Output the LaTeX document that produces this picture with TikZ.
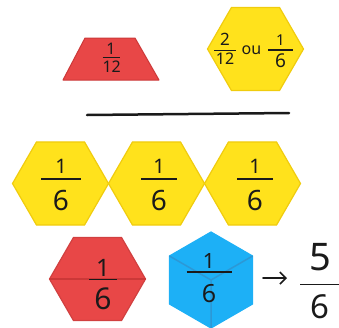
\documentclass[tikz,border=0pt]{standalone}
\usepackage{fontspec}
\setmainfont{Noto Sans}
\usetikzlibrary{shapes.geometric,calc,arrows.meta}
\definecolor{hexyellow}{HTML}{FFE21C}
\definecolor{hexyellowd}{HTML}{F0CC0E}
\definecolor{hexred}{HTML}{E84747}
\definecolor{hexredd}{HTML}{CC3838}
\definecolor{hexblue}{HTML}{1DB0F6}
\definecolor{hexblued}{HTML}{2C98D6}
\definecolor{ink}{HTML}{1A1A1A}
\newcommand\fs[2]{{\fontsize{#1}{#1}\selectfont #2}}
\newcommand\fb[5]{\vbox{\offinterlineskip\hbox to #1{\hfil#4\hfil}\kern#2\hrule height 1.6pt\kern#3\hbox to #1{\hfil#5\hfil}}}
\tikzset{
  hexa/.style={regular polygon, regular polygon sides=6, minimum size=96pt, inner sep=0pt, outer sep=0pt, line width=1.2pt},
  yhex/.style={hexa, fill=hexyellow, draw=hexyellowd},
  txt/.style={inner sep=0pt, outer sep=0pt, text=ink},
}
\begin{document}
\begin{tikzpicture}[x=1pt,y=-1pt]
\useasboundingbox (0,0) rectangle (339,327);
% red trapezoid
\filldraw[fill=hexred, draw=hexredd, line width=1pt, line join=round]
  (85,38) -- (135,38) -- (159,80) -- (63,80) -- cycle;
\node[txt] (t12) at (111,58) {\fb{17pt}{2pt}{3pt}{\fs{16}{1}}{\fs{16}{12}}};
% top yellow hexagon
\node[yhex] (hx0) at (255.5,49) {};
\node[txt] (f212) at (225,49) {\fb{22pt}{4pt}{2pt}{\fs{17}{2}}{\fs{16}{12}}};
\node[txt] (ou) at (251.5,50) {\fs{16}{ou}};
\node[txt] (f16a) at (280.5,51) {\fb{25pt}{4pt}{3pt}{\fs{15}{1}}{\fs{19}{6}}};
% line
\coordinate (l1) at (87,115);
\coordinate (l2) at (289,113);
\draw[ink, line width=2.5pt, line cap=round] (l1) -- (l2);
% row of yellow hexagons
\node[yhex] (hx1) at (60.5,183.5) {};
\node[yhex] (hx2) at (156.5,183.5) {};
\node[yhex] (hx3) at (252.5,183.5) {};
\node[txt] (r1) at (61,185) {\fb{40pt}{5pt}{11pt}{\fs{20}{1}}{\fs{28}{6}}};
\node[txt] (r2) at (159,185) {\fb{36pt}{5pt}{11pt}{\fs{20}{1}}{\fs{28}{6}}};
\node[txt] (r3) at (255,185) {\fb{36pt}{5pt}{11pt}{\fs{20}{1}}{\fs{28}{6}}};
% red hexagon
\node[hexa, fill=hexred, draw=hexred!90!black] (rh) at (97.5,279) {};
\draw[hexredd, line width=1.5pt] (rh.corner 3) -- (rh.corner 6);
\node[txt] (rf) at (103,284.5) {\fb{28pt}{2pt}{7pt}{\fs{24}{1}}{\fs{30}{6}}};
% blue cube hexagon
\node[hexa, regular polygon rotate=30, fill=hexblue, draw=hexblue] (bh) at (211,280) {};
\draw[hexblued, line width=1.5pt] (bh.corner 2) -- (bh.center) -- (bh.corner 6)
  (bh.center) -- (bh.corner 4);
\node[txt] (bf) at (209,278) {\fb{45pt}{3pt}{12pt}{\fs{21}{1}}{\fs{25}{6}}};
% arrow and result
\node[txt] (res) at (320,281) {\fb{40pt}{13pt}{9pt}{\fs{38}{5}}{\fs{33}{6}}};
\coordinate (as) at (263,278);
\coordinate (ae) at (287,278);
\draw[ink, line width=1.6pt, line cap=round, -{Straight Barb[length=6pt,width=12pt]}] (as) -- (ae);
\end{tikzpicture}
\end{document}
